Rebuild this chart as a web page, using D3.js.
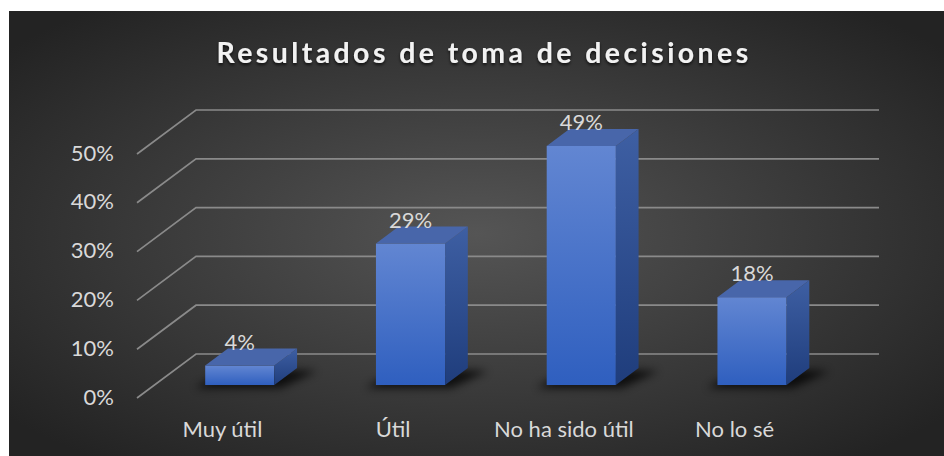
<!DOCTYPE html>
<html>
<head>
<meta charset="utf-8">
<script src="https://cdn.jsdelivr.net/npm/d3@7"></script>
<style>
  body { margin: 0; background: #fff; }
  svg { display: block; }
</style>
</head>
<body>
<div id="chart"></div>
<script>
var categories = ["Muy útil", "Útil", "No ha sido útil", "No lo sé"];
var values = [4, 29, 49, 18];
var yTicks = [0, 10, 20, 30, 40, 50];
var titleText = "Resultados de toma de decisiones";

var W = 944, H = 456;
var font = "Lato, 'Open Sans', sans-serif";

var svg = d3.select("#chart").append("svg")
	.attr("width", W)
	.attr("height", H);

var defs = svg.append("defs");

// background glow, lighter in the middle
var bg = defs.append("radialGradient").attr("id", "bg")
	.attr("cx", "50%").attr("cy", "50%").attr("r", "65%");
bg.append("stop").attr("offset", "0%").attr("stop-color", "#555555");
bg.append("stop").attr("offset", "100%").attr("stop-color", "#232323");

var front = defs.append("linearGradient").attr("id", "front")
	.attr("x1", 0).attr("y1", 0).attr("x2", 0).attr("y2", 1);
front.append("stop").attr("offset", "0%").attr("stop-color", "#6286d2");
front.append("stop").attr("offset", "100%").attr("stop-color", "#2f5fbf");

var side = defs.append("linearGradient").attr("id", "side")
	.attr("x1", 0).attr("y1", 0).attr("x2", 0).attr("y2", 1);
side.append("stop").attr("offset", "0%").attr("stop-color", "#3e5fa3");
side.append("stop").attr("offset", "100%").attr("stop-color", "#1f3d7c");

defs.append("filter").attr("id", "blur")
	.attr("x", "-50%").attr("y", "-50%").attr("width", "200%").attr("height", "200%")
	.append("feGaussianBlur").attr("stdDeviation", 4);

defs.append("filter").attr("id", "tshadow")
	.append("feDropShadow")
	.attr("dx", 0).attr("dy", 2).attr("stdDeviation", 1.5)
	.attr("flood-color", "#000").attr("flood-opacity", 0.7);

svg.append("rect")
	.attr("x", 9).attr("y", 11)
	.attr("width", W - 9).attr("height", H - 11)
	.attr("fill", "url(#bg)");

// front plane of the floor; back wall is pushed up and right by the depth
var depthX = 59, depthY = -44;
var x = d3.scaleBand().domain(categories).range([137, 820]);
var y = d3.scaleLinear().domain([0, 50]).range([398, 154]);

// gridlines: diagonal on the side wall then across the back wall
var grid = svg.append("g").attr("fill", "none")
	.attr("stroke", "#8a8a8a").attr("stroke-width", 1.7);
grid.selectAll("path")
	.data(yTicks)
	.enter().append("path")
		.attr("d", function(d) {
			var x0 = x.range()[0], x1 = x.range()[1];
			return "M" + x0 + "," + y(d) +
				"L" + (x0 + depthX) + "," + (y(d) + depthY) +
				"L" + (x1 + depthX) + "," + (y(d) + depthY);
		});

svg.append("g").selectAll("text")
	.data(yTicks)
	.enter().append("text")
		.attr("x", 114)
		.attr("y", function(d) { return y(d) + 1; })
		.attr("text-anchor", "end")
		.attr("dominant-baseline", "middle")
		.attr("font-family", font)
		.attr("font-size", 22)
		.attr("fill", "#d9d9d9")
		.text(function(d) { return d + "%"; });

// bars sit between these depth fractions
var t0 = 0.295, t1 = 0.68;
var dx = (t1 - t0) * depthX, dy = (t1 - t0) * depthY;
var bw = x.bandwidth() * 0.405;

var data = categories.map(function(c, i) {
	var cx = x(c) + x.bandwidth() / 2;
	var xl = cx - bw / 2 + t0 * depthX;
	return {
		cat: c, v: values[i],
		xl: xl, xr: xl + bw,
		top: y(values[i]) + t0 * depthY,
		bot: y(0) + t0 * depthY
	};
});

function pts(a) { return a.map(function(p) { return p.join(","); }).join(" "); }

var bars = svg.append("g").selectAll("g")
	.data(data)
	.enter().append("g");

bars.append("polygon")
	.attr("points", function(d) {
		return pts([[d.xl - 10, d.bot + 3], [d.xr + 6, d.bot + 3],
			[d.xr + dx + 20, d.bot + dy + 3], [d.xl + dx, d.bot + dy]]);
	})
	.attr("fill", "#000").attr("opacity", 0.75)
	.attr("filter", "url(#blur)");

bars.append("rect")
	.attr("x", function(d) { return d.xl; })
	.attr("y", function(d) { return d.top; })
	.attr("width", bw)
	.attr("height", function(d) { return d.bot - d.top; })
	.attr("fill", "url(#front)");

bars.append("polygon")
	.attr("points", function(d) {
		return pts([[d.xr, d.top], [d.xr + dx, d.top + dy],
			[d.xr + dx, d.bot + dy], [d.xr, d.bot]]);
	})
	.attr("fill", "url(#side)");

bars.append("polygon")
	.attr("points", function(d) {
		return pts([[d.xl, d.top], [d.xr, d.top],
			[d.xr + dx, d.top + dy], [d.xl + dx, d.top + dy]]);
	})
	.attr("fill", "#4866aa");

bars.append("text")
	.attr("x", function(d) { return (d.xl + d.xr) / 2; })
	.attr("y", function(d) { return d.top + dy + 1; })
	.attr("text-anchor", "middle")
	.attr("font-family", font)
	.attr("font-size", 22)
	.attr("fill", "#d9d9d9")
	.text(function(d) { return d.v + "%"; });

svg.append("g").selectAll("text")
	.data(categories)
	.enter().append("text")
		.attr("x", function(d) { return x(d) + x.bandwidth() / 2; })
		.attr("y", 437)
		.attr("text-anchor", "middle")
		.attr("font-family", font)
		.attr("font-size", 22)
		.attr("fill", "#d9d9d9")
		.text(function(d) { return d; });

svg.append("text")
	.attr("x", 484)
	.attr("y", 63)
	.attr("text-anchor", "middle")
	.attr("font-family", font)
	.attr("font-size", 28.5)
	.attr("font-weight", "bold")
	.attr("letter-spacing", 3.4)
	.attr("fill", "#f2f2f2")
	.attr("filter", "url(#tshadow)")
	.text(titleText);
</script>
</body>
</html>
